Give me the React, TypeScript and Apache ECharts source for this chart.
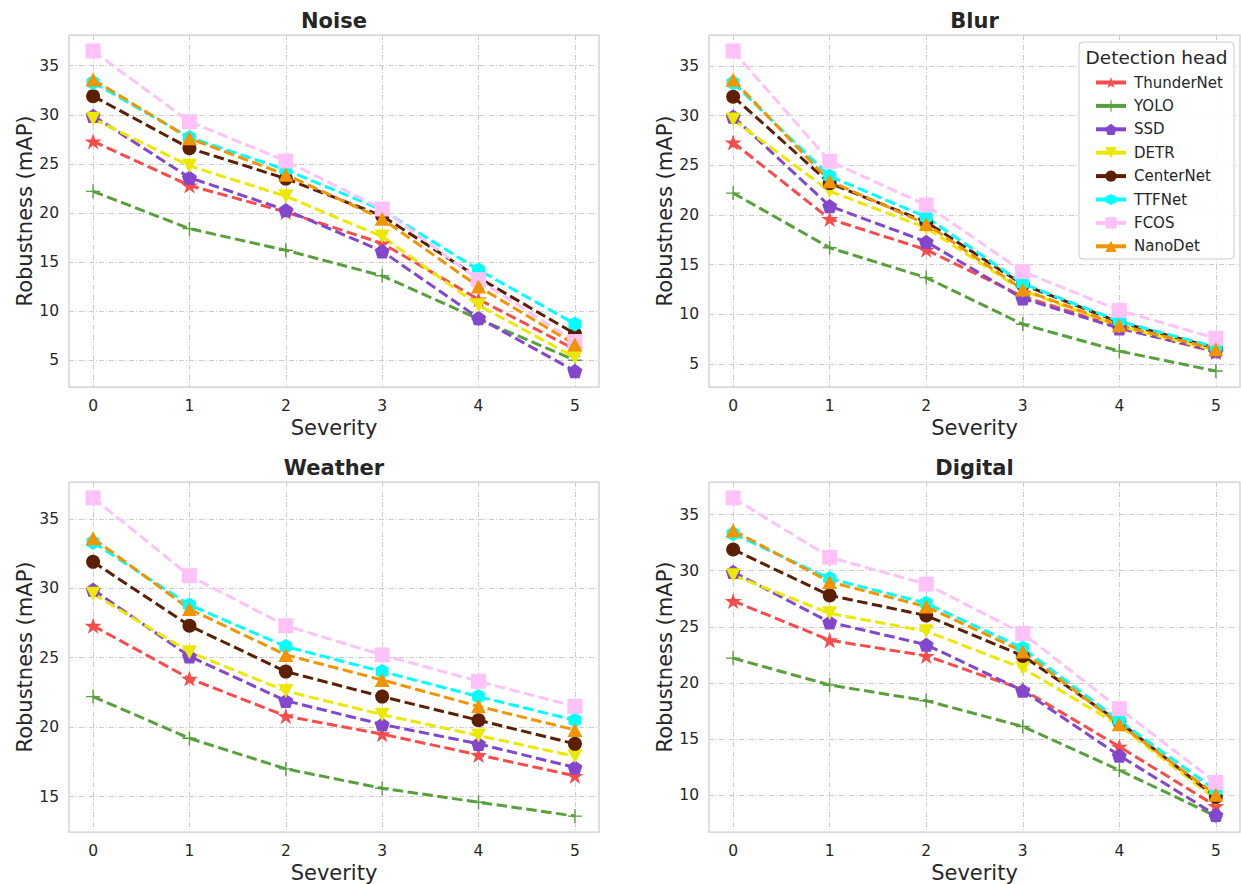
import React, { useEffect, useRef } from "react";
import * as echarts from "echarts";

const models = ["ThunderNet", "YOLO", "SSD", "DETR", "CenterNet", "TTFNet", "FCOS", "NanoDet"];
const severity = [0, 1, 2, 3, 4, 5];
const panelTitles = ["Noise", "Blur", "Weather", "Digital"];

// rows follow `models` order, columns follow `severity`
const noiseValues = [
  [27.3, 22.8, 20.1, 16.9, 11.2, 6.1],
  [22.2, 18.4, 16.2, 13.6, 9.2, 5.0],
  [29.9, 23.6, 20.3, 16.1, 9.3, 3.9],
  [29.6, 24.8, 21.7, 17.6, 10.6, 5.3],
  [31.9, 26.6, 23.5, 19.7, 13.4, 7.7],
  [33.3, 27.7, 24.4, 20.3, 14.2, 8.7],
  [36.5, 29.3, 25.3, 20.4, 13.2, 6.9],
  [33.6, 27.6, 23.9, 19.4, 12.5, 6.6],
];
const blurValues = [
  [27.3, 19.6, 16.5, 11.8, 8.7, 6.2],
  [22.2, 16.7, 13.7, 9.0, 6.3, 4.3],
  [29.9, 20.9, 17.3, 11.6, 8.6, 6.3],
  [29.6, 22.4, 18.7, 12.4, 8.8, 6.4],
  [31.9, 23.2, 19.3, 13.0, 9.2, 6.6],
  [33.3, 23.9, 19.8, 13.1, 9.3, 6.7],
  [36.5, 25.4, 21.0, 14.3, 10.4, 7.6],
  [33.6, 23.4, 19.1, 12.5, 8.9, 6.5],
];
const weatherValues = [
  [27.3, 23.5, 20.8, 19.5, 18.0, 16.5],
  [22.2, 19.2, 17.0, 15.6, 14.6, 13.6],
  [29.9, 25.1, 21.9, 20.2, 18.8, 17.1],
  [29.6, 25.4, 22.6, 20.9, 19.4, 17.9],
  [31.9, 27.3, 24.0, 22.2, 20.5, 18.8],
  [33.3, 28.8, 25.8, 24.0, 22.2, 20.5],
  [36.5, 30.9, 27.3, 25.2, 23.3, 21.5],
  [33.6, 28.5, 25.2, 23.4, 21.5, 19.8],
];
const digitalValues = [
  [27.3, 23.8, 22.4, 19.4, 14.3, 9.0],
  [22.2, 19.8, 18.4, 16.1, 12.2, 8.1],
  [29.9, 25.4, 23.4, 19.3, 13.5, 8.2],
  [29.6, 26.2, 24.6, 21.3, 16.2, 9.6],
  [31.9, 27.8, 26.0, 22.4, 16.5, 9.8],
  [33.3, 29.3, 27.1, 23.1, 16.6, 10.4],
  [36.5, 31.2, 28.8, 24.4, 17.7, 11.1],
  [33.6, 29.0, 26.8, 22.8, 16.3, 10.0],
];
const yTicksNoise = [5, 10, 15, 20, 25, 30, 35];
const yTicksBlur = [5, 10, 15, 20, 25, 30, 35];
const yTicksWeather = [15, 20, 25, 30, 35];
const yTicksDigital = [10, 15, 20, 25, 30, 35];

const colors = ["#f84c4c", "#58a03c", "#8247cc", "#ece800", "#5c1f02", "#00ffff", "#ffc2f8", "#f29400"];

const STAR = "path://M100,0 L122.45,69.1 L195.1,69.1 L136.3,111.8 L158.8,180.9 L100,138.2 L41.2,180.9 L63.7,111.8 L4.9,69.1 L77.55,69.1 Z";
const PLUS = "path://M45,0 L55,0 L55,45 L100,45 L100,55 L55,55 L55,100 L45,100 L45,55 L0,55 L0,45 L45,45 Z";
const PENTAGON = "path://M100,0 L195.1,69.1 L158.8,180.9 L41.2,180.9 L4.9,69.1 Z";
const TRI_DOWN = "path://M0,0 L100,0 L50,100 Z";
const HEXAGON = "path://M100,0 L186.6,50 L186.6,150 L100,200 L13.4,150 L13.4,50 Z";
const symbols = [STAR, PLUS, PENTAGON, TRI_DOWN, "circle", HEXAGON, "rect", "triangle"];
const symbolSizes: any[] = [17, 14, 15, [15, 14], 14, 15, 15, [15, 14]];

const FONT = "DejaVu Sans";
const TEXT = "#262626";
const GRIDC = "#cccccc";

const grids = [
  { left: 69, top: 35, width: 530, height: 352 },
  { left: 709, top: 35, width: 531, height: 352 },
  { left: 69, top: 482, width: 530, height: 353 },
  { left: 709, top: 482, width: 531, height: 353 },
];

export default function App() {
  const ref = useRef<HTMLDivElement>(null);
  useEffect(() => {
    if (!ref.current) return;
    const chart = echarts.init(ref.current, undefined, { renderer: "svg" });
    const panels = [noiseValues, blurValues, weatherValues, digitalValues];
    const yTicks = [yTicksNoise, yTicksBlur, yTicksWeather, yTicksDigital];

    const xAxis: any[] = [];
    const yAxis: any[] = [];
    const series: any[] = [];
    const graphic: any[] = [];

    panels.forEach((vals, p) => {
      const flat = vals.flat();
      const lo = Math.min(...flat);
      const hi = Math.max(...flat);
      const m = (hi - lo) * 0.05;
      const dash = { type: [5, 2, 1, 2], color: GRIDC, width: 1 };
      xAxis.push({
        type: "value",
        gridIndex: p,
        min: -0.25,
        max: 5.25,
        name: "Severity",
        nameLocation: "middle",
        nameGap: 30,
        nameTextStyle: { fontSize: 21, color: TEXT, fontFamily: FONT },
        axisLine: { show: false },
        axisTick: { show: false, customValues: severity },
        axisLabel: { customValues: severity, fontSize: 15.5, color: TEXT, fontFamily: FONT, margin: 11 },
        splitLine: { show: true, lineStyle: dash },
      });
      yAxis.push({
        type: "value",
        gridIndex: p,
        min: lo - m,
        max: hi + m,
        name: "Robustness (mAP)",
        nameLocation: "middle",
        nameGap: 34,
        nameTextStyle: { fontSize: 21, color: TEXT, fontFamily: FONT },
        axisLine: { show: false },
        axisTick: { show: false, customValues: yTicks[p] },
        axisLabel: { customValues: yTicks[p], fontSize: 15.5, color: TEXT, fontFamily: FONT, margin: 10 },
        splitLine: { show: true, lineStyle: dash },
      });
      models.forEach((name, i) => {
        series.push({
          type: "line",
          name,
          xAxisIndex: p,
          yAxisIndex: p,
          data: severity.map((s, j) => [s, vals[i][j]]),
          symbol: symbols[i],
          symbolSize: symbolSizes[i],
          symbolKeepAspect: true,
          showAllSymbol: true,
          color: colors[i],
          itemStyle: { color: colors[i] },
          lineStyle: { color: colors[i], width: 3, type: [10.5, 4.5] },
          emphasis: { disabled: true },
        });
      });
      const g = grids[p];
      graphic.push({
        type: "text",
        x: g.left + g.width / 2,
        y: g.top - 14,
        style: {
          text: panelTitles[p],
          fontSize: 21,
          fontWeight: "bold",
          fontFamily: FONT,
          fill: TEXT,
          textAlign: "center",
          textVerticalAlign: "middle",
        },
      });
    });

    graphic.push({
      type: "rect",
      z: 50,
      shape: { x: 1079, y: 42, width: 155, height: 217, r: 4 },
      style: { fill: "rgba(255,255,255,0.9)", stroke: GRIDC, lineWidth: 1 },
    });
    graphic.push({
      type: "text",
      z: 51,
      x: 1156.5,
      y: 57,
      style: {
        text: "Detection head",
        fontSize: 18.5,
        fontFamily: FONT,
        fill: TEXT,
        textAlign: "center",
        textVerticalAlign: "middle",
      },
    });

    chart.setOption({
      animation: false,
      backgroundColor: "#ffffff",
      grid: grids.map((g) => ({ ...g, show: true, borderColor: GRIDC, borderWidth: 1.25, backgroundColor: "#ffffff" })),
      xAxis,
      yAxis,
      series,
      graphic,
      legend: {
        data: models,
        orient: "vertical",
        left: 1089,
        top: 70,
        itemWidth: 30,
        itemHeight: 14,
        itemGap: 8.4,
        z: 60,
        lineStyle: { type: "solid", width: 4 },
        textStyle: { fontSize: 15, color: TEXT, fontFamily: FONT, padding: [0, 0, 0, 3] },
        selectedMode: false,
      },
    });
    return () => chart.dispose();
  }, []);
  return (
    <div
      ref={ref}
      style={{ position: "fixed", left: 0, top: 0, width: 1241, height: 884, background: "#fff" }}
    />
  );
}
